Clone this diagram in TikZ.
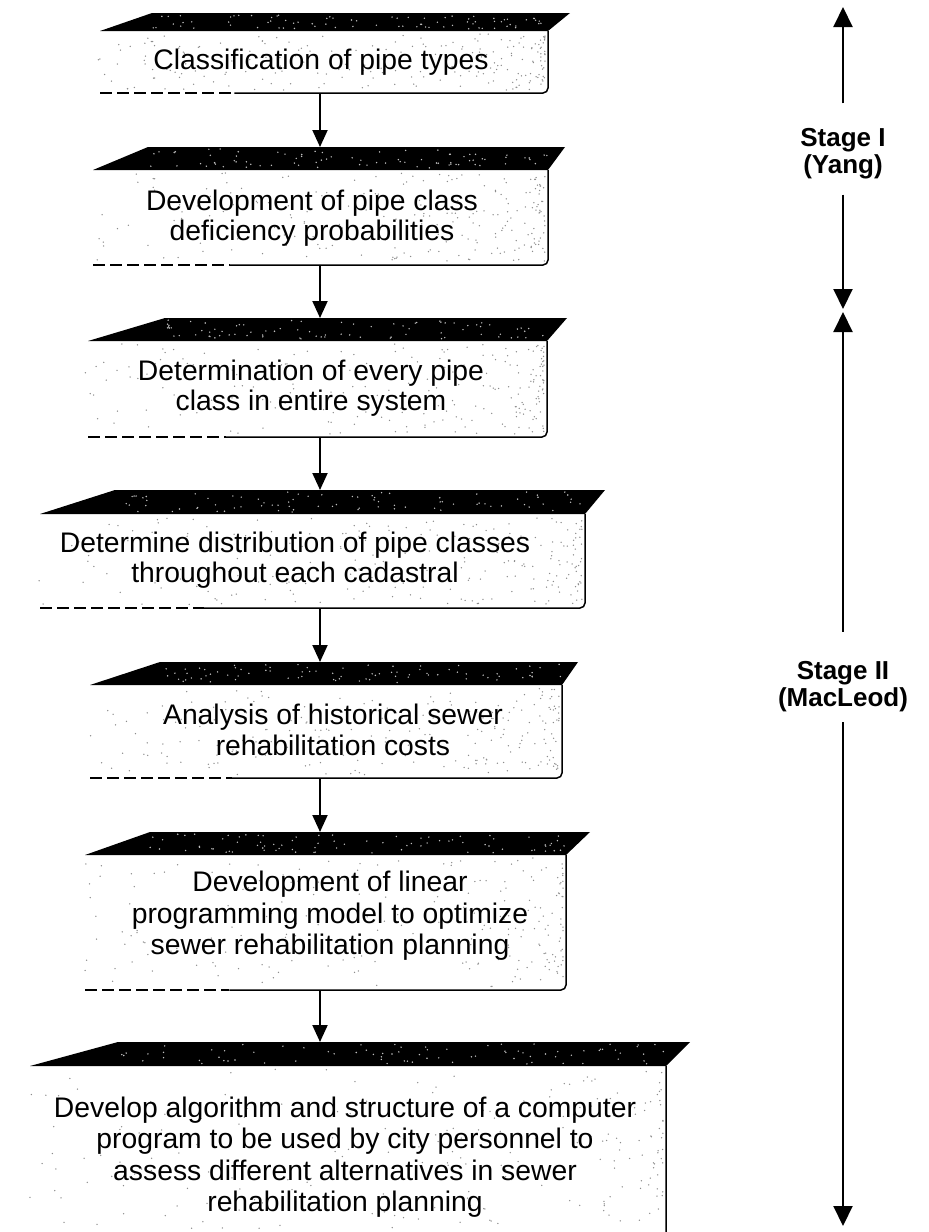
\documentclass[tikz,border=0pt]{standalone}
\usepackage{fontspec}
\setmainfont{Liberation Sans}
\usetikzlibrary{arrows.meta}

\tikzset{
  boxtext/.style={align=center, font=\fontsize{28.3}{30.5}\selectfont, inner sep=0pt},
  widetext/.style={boxtext, font=\fontsize{28.3}{31.5}\selectfont},
  stagetext/.style={align=center, font=\fontsize{26}{27}\selectfont\bfseries, inner xsep=0pt, inner ysep=20pt},
  flow/.style={line width=2pt, -{Triangle[length=17pt,width=15pt]}},
  stageflow/.style={line width=2pt, -{Triangle[length=20pt,width=19pt]}},
  frontface/.style={draw=none, inner sep=0pt, outer sep=0pt},
  slabfill/.style={fill=black},
  edgeline/.style={line width=1.5pt, black},
  dashedge/.style={line width=1.5pt, black, dash pattern=on 12pt off 5pt},
  speck/.style={fill=black!45},
  slabspeck/.style={fill=black!25},
}

% #1 name, #2 slab top y, #3 slab top-left x, #4 slab top-right x,
% #5 front top y, #6 front left x, #7 front right x, #8 bottom y
\newcommand\pipebox[8]{%
  \fill[slabfill] (#6,#5) -- (#3,#2) -- (#4,#2) -- (#7,#5) -- cycle;
  \foreach \k in {1,...,80}{%
    \pgfmathsetmacro\px{#3+(#7-#3)*rnd}%
    \pgfmathsetmacro\py{#2+2+(#5-#2-4)*rnd}%
    \fill[slabspeck] (\px,\py) circle[radius=0.8];
  }%
  \foreach \k in {1,...,220}{%
    \pgfmathsetmacro\u{rnd}%
    \pgfmathsetmacro\px{#7-3-(#7-#6)*\u*\u}%
    \pgfmathsetmacro\py{#5+3+(min(#8,1232)-#5-6)*rnd}%
    \fill[speck] (\px,\py) circle[radius=0.75];
  }%
  \coordinate (#1top) at ({(#3+#4)/2},#2);
  \node[frontface, minimum width={(#7-#6)*1pt}, minimum height={(#8-#5)*1pt}]
    (#1) at ({(#6+#7)/2},{(#5+#8)/2}) {};
  \draw[dashedge] (#6,#8) -- ({#6+0.3*(#7-#6)},#8);
  \draw[edgeline, rounded corners=5pt] ({#6+0.3*(#7-#6)},#8) -- (#7,#8) -- (#7,#5);
}

\begin{document}
\begin{tikzpicture}[x=1pt, y=-1pt]
\useasboundingbox (0,0) rectangle (929,1232);
\clip (0,0) rectangle (929,1232);
\pgfmathsetseed{4711}

% flow chart blocks
\pipebox{b1}{13}{152}{570}{31}{100}{548}{93}
\pipebox{b2}{147}{148}{565}{170}{93}{548}{265}
\pipebox{b3}{318}{165}{567}{341}{88}{547}{437}
\pipebox{b4}{490}{115}{605}{514}{40}{585}{608}
\pipebox{b5}{662}{160}{578}{685}{90}{562}{778}
\pipebox{b6}{832}{150}{590}{855}{85}{566}{990}
\pipebox{b7}{1042}{118}{690}{1066}{30}{666}{1250}

\node[boxtext] (t1) at (321,62) {Classification of pipe types};
\node[boxtext] (t2) at (312,218) {Development of pipe class\\deficiency probabilities};
\node[boxtext] (t3) at (311,388) {Determination of every pipe\\class in entire system};
\node[boxtext] (t4) at (295,560) {Determine distribution of pipe classes\\throughout each cadastral};
\node[boxtext] (t5) at (333,730) {Analysis of historical sewer\\rehabilitation costs};
\node[widetext] (t6) at (330,916) {Development of linear\\programming model to optimize\\sewer rehabilitation planning};
\node[widetext] (t7) at (345,1157) {Develop algorithm and structure of a computer\\program to be used by city personnel to\\assess different alternatives in sewer\\rehabilitation planning};

% connectors down the chain
\coordinate (ax) at (320,0);
\draw[flow] (b1.south -| ax) -- (b2top -| ax);
\draw[flow] (b2.south -| ax) -- (b3top -| ax);
\draw[flow] (b3.south -| ax) -- (b4top -| ax);
\draw[flow] (b4.south -| ax) -- (b5top -| ax);
\draw[flow] (b5.south -| ax) -- (b6top -| ax);
\draw[flow] (b6.south -| ax) -- (b7top -| ax);

% stage brackets on the right
\node[stagetext] (st1) at (843,154) {Stage I\\(Yang)};
\coordinate (st1up) at (843,7);
\coordinate (st1dn) at (843,309);
\draw[stageflow] ([yshift=5pt]st1.north) -- (st1up);
\draw[stageflow] ([yshift=5pt]st1.south) -- (st1dn);

\node[stagetext] (st2) at (843,687) {Stage II\\(MacLeod)};
\coordinate (st2up) at (843,312);
\coordinate (st2dn) at (843,1226);
\draw[stageflow] ([yshift=10pt]st2.north) -- (st2up);
\draw[stageflow] ([yshift=10pt]st2.south) -- (st2dn);
\end{tikzpicture}
\end{document}
